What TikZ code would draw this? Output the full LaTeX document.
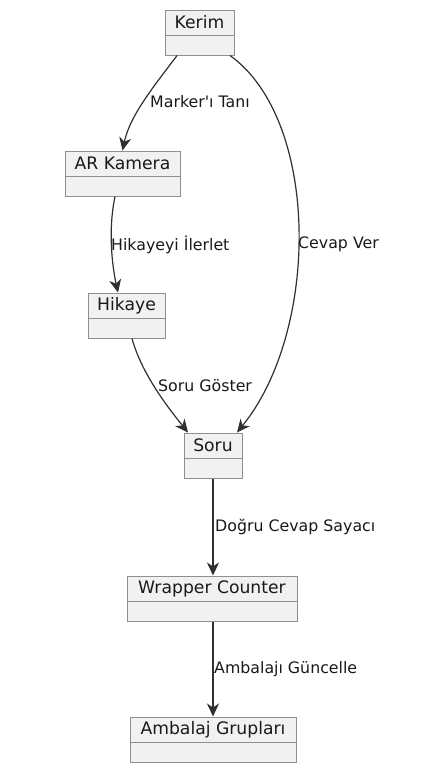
\documentclass[tikz,border=0pt]{standalone}
\usepackage{fontspec}
\setmainfont[Ligatures=NoCommon]{DejaVu Sans}
\usetikzlibrary{arrows.meta}
\definecolor{boxfill}{HTML}{F1F1F1}
\definecolor{boxdraw}{HTML}{8F8F8F}
\definecolor{edgecol}{HTML}{303030}
\tikzset{
  umlbox/.style={draw=boxdraw, fill=boxfill, line width=1pt, minimum height=45pt, inner sep=0pt},
  clsname/.style={font=\fontsize{17.2}{20}\selectfont, inner sep=0pt, text=black!90},
  lbl/.style={font=\fontsize{15.8}{18}\selectfont, inner sep=0pt, anchor=west, text=black!90},
  edge/.style={draw=edgecol, line width=1.2pt, -{Stealth[length=13pt, width=12pt, inset=4pt]}},
}
\newcommand\umlbox[5]{%
  \node[umlbox, minimum width=#4pt] (#1) at (#2,#3+22.5) {};
  \node[clsname] (#1t) at (#2,#3+12.5) {#5};
  \draw[boxdraw, line width=1pt] ([yshift=-2.5pt]#1.west) -- ([yshift=-2.5pt]#1.east);
}
\begin{document}
\begin{tikzpicture}[x=1pt,y=-1pt]
\useasboundingbox (0,0) rectangle (424,777);
\umlbox{kerim}{199.5}{10}{69}{Kerim}
\umlbox{ar}{122.5}{151}{115}{AR Kamera}
\umlbox{hik}{126.5}{293}{77}{Hikaye}
\umlbox{soru}{213}{433}{58}{Soru}
\umlbox{wrap}{212}{576}{170}{Wrapper Counter}
\umlbox{amb}{213}{717}{166}{Ambalaj Grupları}

\draw[edge] ([xshift=-22.5pt]kerim.south) .. controls (155,85) and (130,115) .. (ar.north);
\draw[edge] ([xshift=30.5pt]kerim.south) .. controls (320,120) and (320,330) .. ([xshift=24pt]soru.north);
\draw[edge] ([xshift=-7.5pt]ar.south) .. controls (108,230) and (112,265) .. ([xshift=-8.5pt]hik.north);
\draw[edge] ([xshift=5.5pt]hik.south) .. controls (142,375) and (170,410) .. ([xshift=-25pt]soru.north);
\draw[edge] (soru.south) -- (soru.south |- wrap.north);
\draw[edge] (soru.south |- wrap.south) -- (soru.south |- amb.north);

\node[lbl] (l1) at (150,102) {Marker\textquotesingle ı Tanı};
\node[lbl] (l2) at (298,244) {Cevap Ver};
\node[lbl] (l3) at (111,245) {Hikayeyi İlerlet};
\node[lbl] (l4) at (158,386) {Soru Göster};
\node[lbl] (l5) at (215,527) {Doğru Cevap Sayacı};
\node[lbl] (l6) at (214,669) {Ambalajı Güncelle};
\end{tikzpicture}
\end{document}
